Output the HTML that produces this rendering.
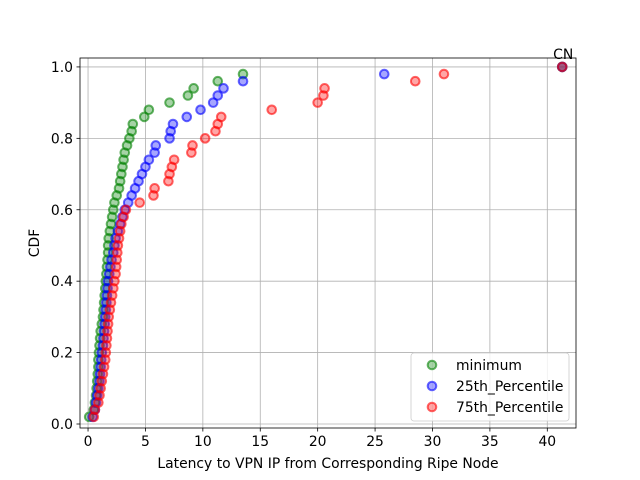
<!DOCTYPE html>
<html><head><meta charset="utf-8"><style>body{margin:0;background:#fff}svg{display:block;font-family:"DejaVu Sans","Liberation Sans",sans-serif}</style></head>
<body>
<svg id="chart" width="640" height="480" viewBox="0 0 640 480">
<g id="grid"></g><g id="marks"></g><g id="axes"></g>
</svg>
<script>
const yVals = [];
for (let i = 1; i <= 50; i++) yVals.push(i / 50);
const minimum = [0.1,0.5,0.6,0.7,0.75,0.8,0.85,0.9,0.9,0.95,1.0,1.05,1.1,1.2,1.3,1.35,1.4,1.45,1.5,1.55,1.6,1.65,1.7,1.75,1.75,1.8,1.9,2.0,2.1,2.2,2.3,2.5,2.7,2.8,2.9,3.0,3.1,3.2,3.4,3.6,3.8,3.9,4.9,5.3,7.1,8.7,9.2,11.3,13.5,41.3];
const p25 = [0.4,0.6,0.7,0.8,0.9,1.0,1.05,1.1,1.15,1.2,1.3,1.35,1.4,1.45,1.5,1.55,1.6,1.65,1.7,1.75,1.85,1.95,2.05,2.2,2.3,2.4,2.6,2.8,3.0,3.2,3.5,3.8,4.1,4.4,4.7,5.0,5.3,5.8,5.9,7.1,7.2,7.4,8.6,9.8,10.9,11.3,11.8,13.5,25.8,41.3];
const p75 = [0.5,0.6,0.9,1.0,1.1,1.2,1.3,1.4,1.5,1.55,1.6,1.65,1.7,1.75,1.8,1.9,2.0,2.1,2.2,2.3,2.4,2.45,2.5,2.55,2.6,2.7,2.8,2.9,3.1,3.3,4.5,5.7,5.8,7.0,7.1,7.3,7.5,9.0,9.1,10.2,11.1,11.3,11.6,16.0,20.0,20.5,20.6,28.5,31.0,41.3];
const xTicks = [0,5,10,15,20,25,30,35,40];
const yTicks = [0,0.2,0.4,0.6,0.8,1.0];
const seriesNames = ["minimum","25th_Percentile","75th_Percentile"];
const seriesColors = ["green","blue","red"];
const annotation = "CN";

const L=80,R=576,T=58,B=428, xMin=-0.7, xMax=42.5, yMin=-0.0112, yMax=1.025;
const FS=13.9;
const sx=v=>L+(v-xMin)/(xMax-xMin)*(R-L);
const sy=v=>B-(v-yMin)/(yMax-yMin)*(B-T);
const NS="http://www.w3.org/2000/svg";
function mk(tag,attrs,parent,text){const e=document.createElementNS(NS,tag);for(const k in attrs)e.setAttribute(k,attrs[k]);if(text!==undefined)e.textContent=text;parent.appendChild(e);return e;}
const grid=document.getElementById('grid'),marks=document.getElementById('marks'),axes=document.getElementById('axes');
xTicks.forEach(t=>{
 const g=mk('line',{x1:sx(t),x2:sx(t),y1:T,y2:B,stroke:'#b0b0b0','stroke-width':0.8},grid);
 
 
 mk('line',{x1:sx(t),x2:sx(t),y1:B,y2:B+3.5,stroke:'#000','stroke-width':0.8},axes);
 const tx=mk('text',{x:sx(t),y:B+18,'font-size':FS,'text-anchor':'middle'},axes,String(t));
 
 
});
yTicks.forEach(t=>{
 const g=mk('line',{x1:L,x2:R,y1:sy(t),y2:sy(t),stroke:'#b0b0b0','stroke-width':0.8},grid);
 
 
 mk('line',{x1:L-3.5,x2:L,y1:sy(t),y2:sy(t),stroke:'#000','stroke-width':0.8},axes);
 const tx=mk('text',{x:L-7,y:sy(t)+5,'font-size':FS,'text-anchor':'end'},axes,t.toFixed(1));
 
 
});
[minimum,p25,p75].forEach((s,si)=>{
 s.forEach((v,i)=>{
  const c=mk('circle',{cx:sx(v),cy:sy(yVals[i]),r:4.3,fill:seriesColors[si],'fill-opacity':0.35,stroke:seriesColors[si],'stroke-opacity':0.6,'stroke-width':2},marks);
  
  
 });
});
const an=mk('text',{x:sx(minimum[49])+1,y:sy(1.0)-8,'font-size':FS,'text-anchor':'middle'},marks,annotation);


const fr=mk('rect',{x:L,y:T,width:R-L,height:B-T,fill:'none',stroke:'#000','stroke-width':0.8},axes);


const xl=mk('text',{x:(L+R)/2,y:468,'font-size':FS,'text-anchor':'middle'},axes,'Latency to VPN IP from Corresponding Ripe Node');


const yl=mk('text',{x:0,y:0,'font-size':FS,'text-anchor':'middle',transform:'translate(39,243) rotate(-90)'},axes,'CDF');


const lg=mk('g',{},axes);


mk('rect',{x:411,y:353,width:158,height:68,rx:3,fill:'#fff','fill-opacity':0.8,stroke:'#ccc','stroke-width':0.8},lg);
seriesNames.forEach((n,i)=>{
 const y=365+i*21;
 const c=mk('circle',{cx:432,cy:y,r:4.3,fill:seriesColors[i],'fill-opacity':0.35,stroke:seriesColors[i],'stroke-opacity':0.6,'stroke-width':2},lg);
 
 
 const t=mk('text',{x:456,y:y+5,'font-size':FS},lg,n);
 
 
});
</script>
</body></html>
